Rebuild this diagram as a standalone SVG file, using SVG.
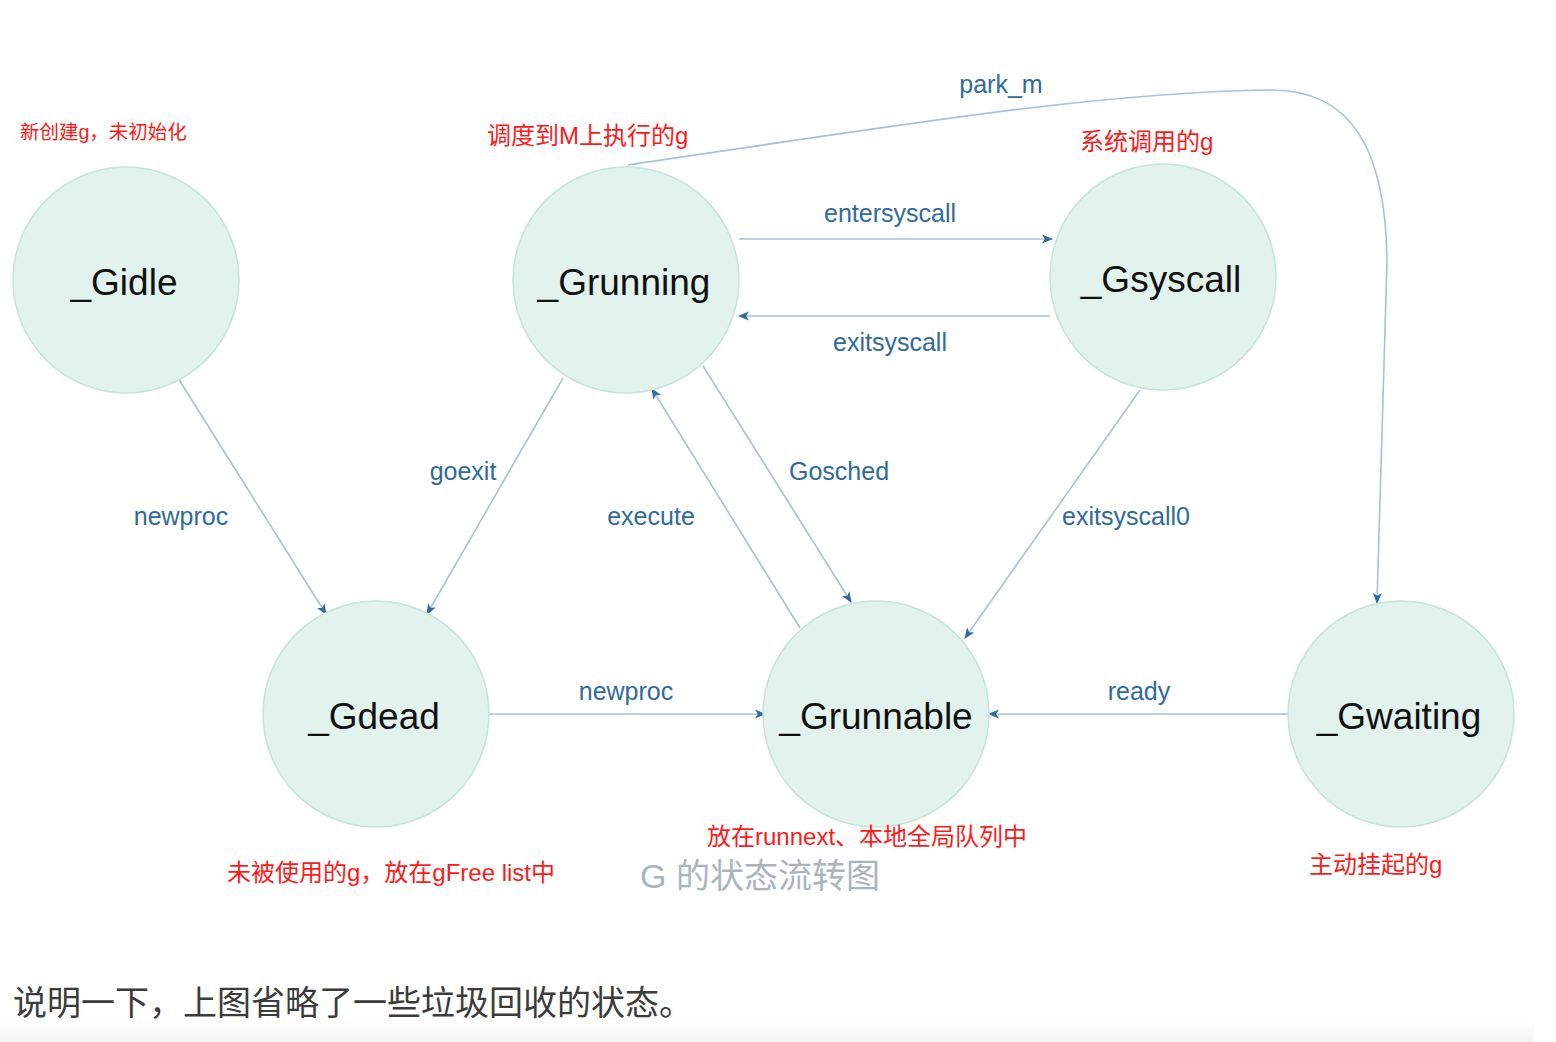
<svg xmlns="http://www.w3.org/2000/svg" width="1556" height="1042" viewBox="0 0 1556 1042">
<style>
.node circle{fill:#e2f2ec;stroke:#c4e5d8;stroke-width:1.5}
.node text{font-family:"Liberation Sans",Arial,sans-serif;font-size:37px;fill:#111;text-anchor:middle}
.edge{fill:none;stroke:#a6c1d8;stroke-width:1.6;marker-end:url(#ah)}
.lbl{font-family:"Liberation Sans",Arial,sans-serif;font-size:25px;fill:#2f6b99;text-anchor:middle}
.note{font-family:"Liberation Sans","Noto Sans CJK SC",sans-serif;font-size:24px;fill:#ff1a1a}
</style>
<defs>
<marker id="ah" viewBox="0 0 10 10" refX="9" refY="5" markerWidth="11" markerHeight="11" markerUnits="userSpaceOnUse" orient="auto">
<path d="M0,1 L10,5 L0,9 L2.5,5 Z" fill="#2e6a9e"/>
</marker>
<linearGradient id="bg" x1="0" y1="0" x2="0" y2="1">
<stop offset="0" stop-color="#ffffff"/>
<stop offset="1" stop-color="#f4f4f4"/>
</linearGradient>
</defs>
<rect width="1556" height="1042" fill="#ffffff"/>
<rect x="0" y="1020" width="1534" height="22" fill="url(#bg)"/>

<g id="connectors">
<path class="edge" d="M178,378 L326,614"/>
<path class="edge" d="M563,378 L427,614"/>
<path class="edge" d="M800,628 L652,389"/>
<path class="edge" d="M703,366 L851,602"/>
<path class="edge" d="M739,239 L1052,239"/>
<path class="edge" d="M1050,316 L739,316"/>
<path class="edge" d="M1140,390 L965,638"/>
<path class="edge" d="M489,714 L765,714"/>
<path class="edge" d="M1288,714 L989,714"/>
<path class="edge" d="M628,165 C900,125 1100,92 1270,90 C1352,89 1386,150 1387,262 L1377,603"/>
<text class="lbl" x="181" y="525">newproc</text>
<text class="lbl" x="463" y="480">goexit</text>
<text class="lbl" x="651" y="525">execute</text>
<text class="lbl" x="839" y="480">Gosched</text>
<text class="lbl" x="890" y="222">entersyscall</text>
<text class="lbl" x="890" y="351">exitsyscall</text>
<text class="lbl" x="1126" y="525">exitsyscall0</text>
<text class="lbl" x="626" y="700">newproc</text>
<text class="lbl" x="1139" y="700">ready</text>
<text class="lbl" x="1001" y="93">park_m</text>
</g>

<g id="Gidle" class="node"><circle cx="126" cy="280" r="113"/><text x="124" y="295">_Gidle</text></g>
<g id="Grunning" class="node"><circle cx="626" cy="280" r="113"/><text x="624" y="295">_Grunning</text></g>
<g id="Gsyscall" class="node"><circle cx="1163" cy="277" r="113"/><text x="1161" y="292">_Gsyscall</text></g>
<g id="Gdead" class="node"><circle cx="376" cy="714" r="113"/><text x="374" y="729">_Gdead</text></g>
<g id="Grunnable" class="node"><circle cx="876" cy="714" r="113"/><text x="876" y="729">_Grunnable</text></g>
<g id="Gwaiting" class="node"><circle cx="1401" cy="714" r="113"/><text x="1399" y="729">_Gwaiting</text></g>

<g id="notes">
<text class="note" x="20" y="139" style="font-size:19.5px">新创建g，未初始化</text>
<text class="note" x="487" y="144">调度到M上执行的g</text>
<text class="note" x="1080" y="150">系统调用的g</text>
<text class="note" x="707" y="845">放在runnext、本地全局队列中</text>
<text class="note" x="227" y="881">未被使用的g，放在gFree list中</text>
<text class="note" x="1309" y="873">主动挂起的g</text>
<text x="640" y="888" style="font-family:'Liberation Sans','Noto Sans CJK SC',sans-serif;font-size:34px;fill:#aab4bd">G 的状态流转图</text>
<text x="13" y="1015" style="font-family:'Noto Sans CJK SC','Liberation Sans',sans-serif;font-size:34px;fill:#3b3b3b">说明一下，上图省略了一些垃圾回收的状态。</text>
</g>
</svg>
